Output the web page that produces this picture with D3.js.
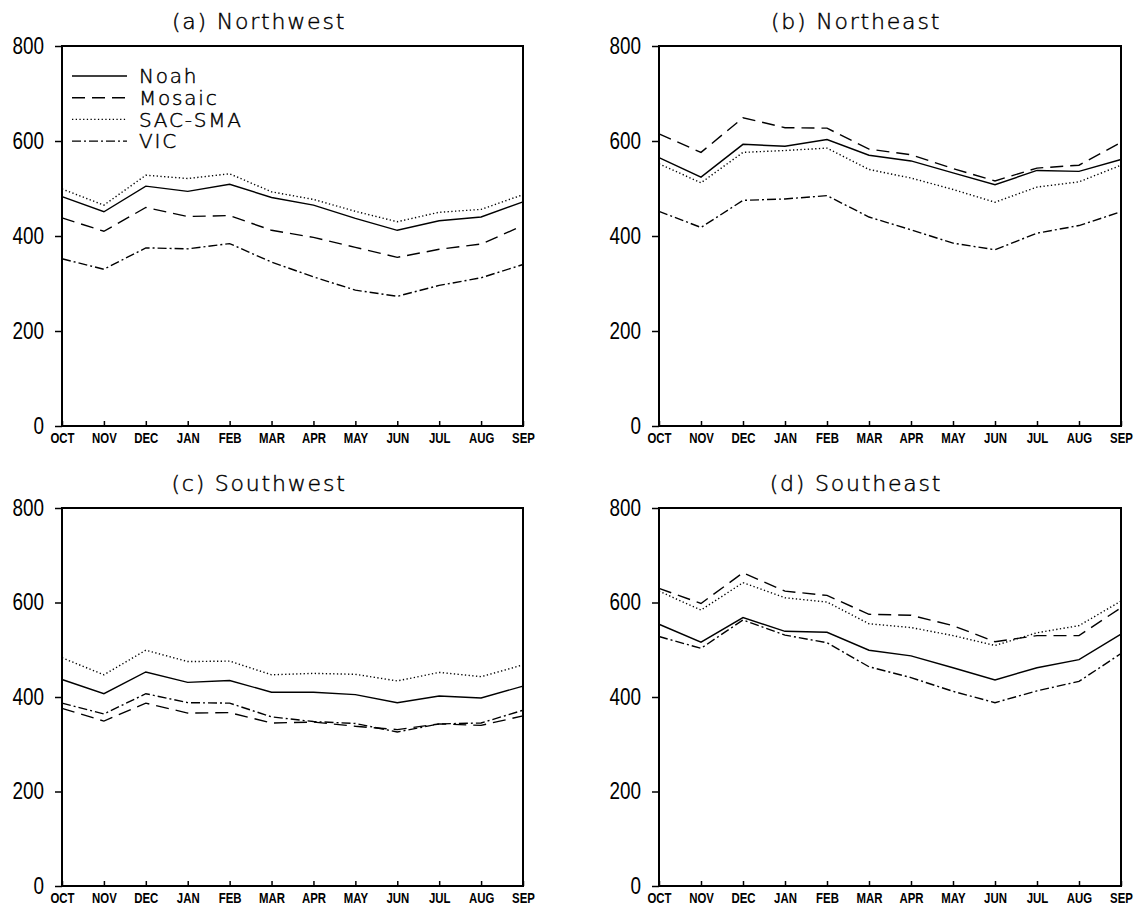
<!DOCTYPE html>
<html>
<head>
<meta charset="utf-8">
<script src="https://cdn.jsdelivr.net/npm/d3@7"></script>
<style>
  body { margin: 0; background: #fff; }
</style>
</head>
<body>
<div id="chart"></div>
<script>
// ---- data ----
const months = ["OCT","NOV","DEC","JAN","FEB","MAR","APR","MAY","JUN","JUL","AUG","SEP"];
const models = ["Noah","Mosaic","SAC-SMA","VIC"];
const yTicks = [0, 200, 400, 600, 800];

// each region: [Noah, Mosaic, SAC-SMA, VIC]
const northwest = [
  [483, 451, 505, 494, 509, 481, 465, 437, 412, 432, 440, 472],
  [438, 410, 460, 441, 443, 412, 397, 376, 355, 372, 383, 422],
  [499, 465, 528, 521, 531, 493, 477, 452, 430, 450, 456, 487],
  [352, 330, 375, 373, 384, 345, 314, 286, 273, 296, 312, 340]
];
const northeast = [
  [565, 524, 593, 589, 603, 570, 558, 533, 508, 538, 536, 561],
  [615, 576, 649, 628, 627, 583, 571, 542, 516, 543, 549, 597],
  [552, 512, 576, 580, 585, 540, 522, 498, 471, 503, 514, 549],
  [452, 418, 475, 478, 485, 440, 413, 385, 371, 406, 422, 451]
];
const southwest = [
  [437, 407, 453, 431, 435, 410, 410, 405, 388, 402, 398, 423],
  [376, 349, 387, 366, 367, 345, 347, 338, 331, 343, 340, 360],
  [483, 447, 499, 475, 476, 447, 450, 448, 434, 452, 443, 468],
  [387, 364, 407, 388, 387, 358, 348, 344, 326, 343, 345, 372]
];
const southeast = [
  [554, 516, 568, 539, 537, 499, 487, 462, 436, 462, 479, 533],
  [630, 598, 663, 624, 615, 575, 573, 551, 517, 530, 530, 589],
  [624, 584, 642, 610, 601, 555, 547, 530, 509, 536, 551, 603],
  [528, 503, 563, 531, 515, 464, 441, 412, 388, 413, 433, 492]
];
const titles = ["(a) Northwest", "(b) Northeast", "(c) Southwest", "(d) Southeast"];
const regions = [northwest, northeast, southwest, southeast];

// ---- layout ----
const width = 1136, height = 910;
const panels = [
  {left: 62,  top: 46,  w: 461, h: 380},
  {left: 659, top: 46,  w: 462, h: 380},
  {left: 62,  top: 508, w: 461, h: 378},
  {left: 659, top: 508, w: 462, h: 378}
];
const dashes = [null, "13,7", "1.3,2.4", "9,3,2,3"];
const titleFont = "'DejaVu Sans', sans-serif";
const numFont = "'Liberation Sans', Arial, sans-serif";

const svg = d3.create("svg")
  .attr("width", width)
  .attr("height", height);
document.getElementById("chart").appendChild(svg.node());

// squeeze text horizontally to look like a condensed face
function narrow(sel, k) {
  sel.each(function() {
    const len = this.getComputedTextLength();
    d3.select(this)
      .attr("textLength", len * k)
      .attr("lengthAdjust", "spacingAndGlyphs");
  });
}

function thinText(sel, size) {
  sel.style("font-family", titleFont)
    .style("font-weight", 200)
    .style("font-size", size)
    .style("letter-spacing", "1.8px")
    .attr("fill", "#000")
    .attr("stroke", "#000")
    .attr("stroke-width", 0.45);
}

panels.forEach((p, pi) => {
  const g = svg.append("g").attr("transform", `translate(${p.left},${p.top})`);

  const x = d3.scalePoint().domain(months).range([0, p.w]);
  const y = d3.scaleLinear().domain([0, 800]).range([p.h, 0]);

  // x axis, ticks pointing inward
  const xa = g.append("g")
    .attr("transform", `translate(0,${p.h})`)
    .call(d3.axisBottom(x).tickSizeInner(-5).tickSizeOuter(0).tickPadding(6));
  xa.select(".domain").remove();
  xa.selectAll("line").attr("stroke", "#000").attr("stroke-width", 1.5);
  xa.selectAll("text")
    .attr("fill", "#000")
    .style("font-family", numFont)
    .style("font-weight", "bold")
    .style("font-size", "15px")
    .call(narrow, 0.76);

  // y axis
  const ya = g.append("g")
    .call(d3.axisLeft(y).tickValues(yTicks).tickSizeInner(7).tickSizeOuter(0).tickPadding(11));
  ya.select(".domain").remove();
  ya.selectAll("line").attr("stroke", "#000").attr("stroke-width", 1.5);
  ya.selectAll("text")
    .attr("fill", "#000")
    .style("font-family", numFont)
    .style("font-size", "23px")
    .call(narrow, 0.82);

  // lines
  const line = d3.line()
    .x((d, i) => x(months[i]))
    .y(d => y(d));

  g.selectAll("path.series")
    .data(regions[pi])
    .join("path")
    .attr("class", "series")
    .attr("d", line)
    .attr("fill", "none")
    .attr("stroke", "#000")
    .attr("stroke-width", 1.4)
    .attr("stroke-dasharray", (d, i) => dashes[i]);

  // frame
  g.append("rect")
    .attr("width", p.w)
    .attr("height", p.h)
    .attr("fill", "none")
    .attr("stroke", "#000")
    .attr("stroke-width", 2);

  // title
  g.append("text")
    .attr("x", 197)
    .attr("y", -17)
    .attr("text-anchor", "middle")
    .call(thinText, "22px")
    .text(titles[pi]);

  // legend only in first panel
  if (pi === 0) {
    const lg = g.selectAll("g.leg")
      .data(models)
      .join("g")
      .attr("class", "leg")
      .attr("transform", (d, i) => `translate(10,${30 + i * 21.7})`);
    lg.append("line")
      .attr("x1", 0).attr("x2", 55)
      .attr("stroke", "#000")
      .attr("stroke-width", 1.4)
      .attr("stroke-dasharray", (d, i) => dashes[i]);
    lg.append("text")
      .attr("x", 67)
      .attr("dy", "0.36em")
      .call(thinText, "20px")
      .text(d => d);
  }
});
</script>
</body>
</html>
